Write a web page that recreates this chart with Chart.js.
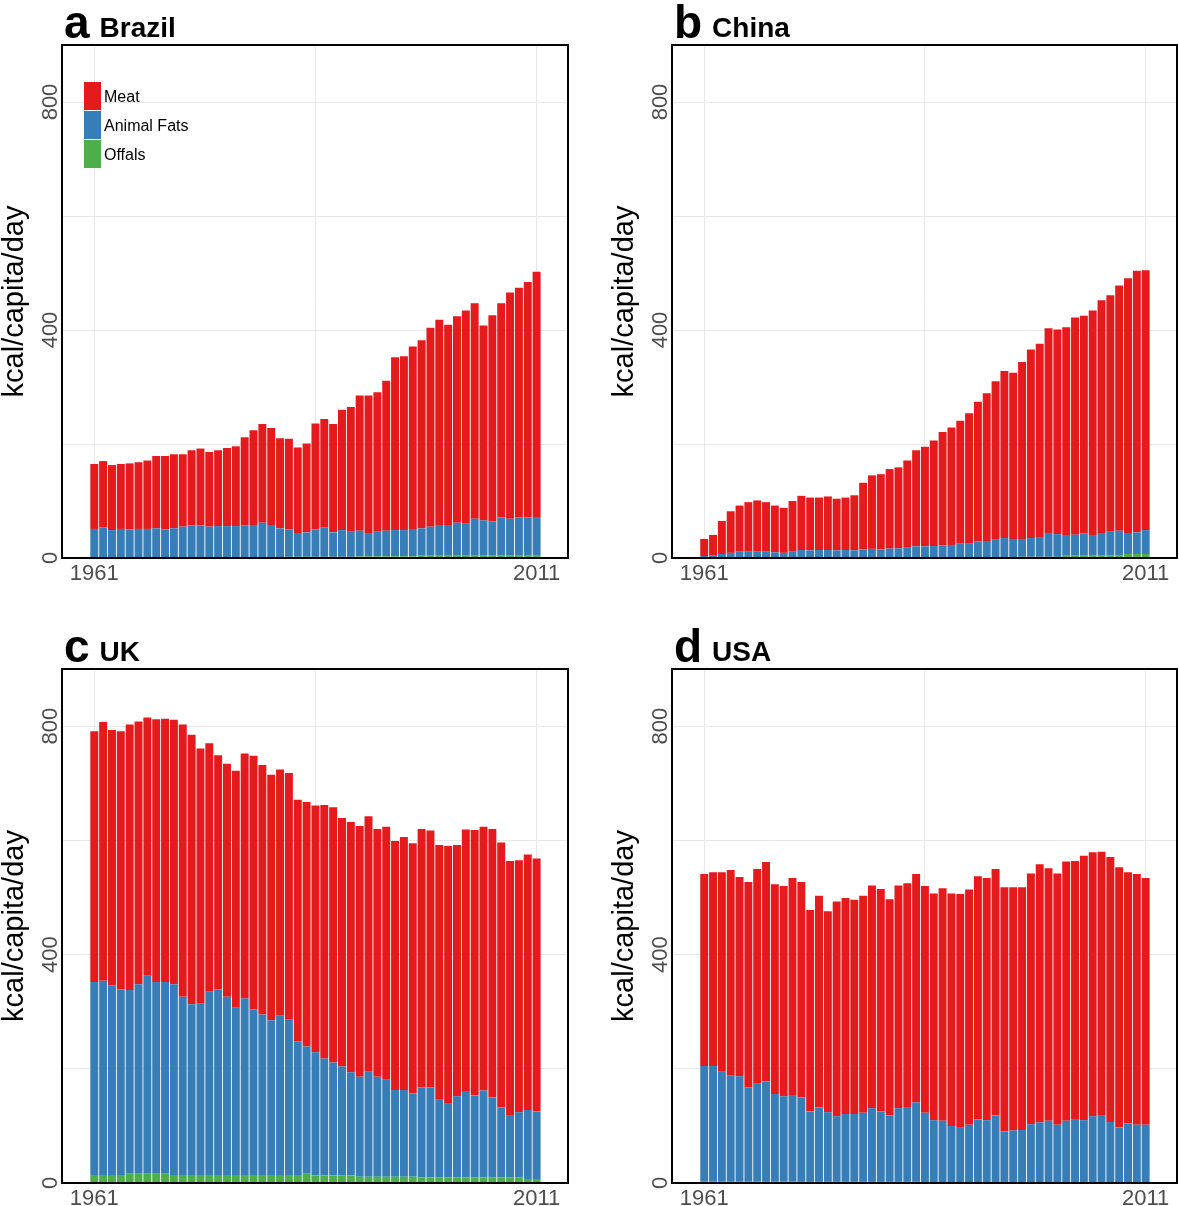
<!DOCTYPE html>
<html>
<head>
<meta charset="utf-8">
<script src="https://cdn.jsdelivr.net/npm/chart.js@4.4.1/dist/chart.umd.min.js"></script>
<style>
  html, body { margin: 0; padding: 0; background: #fff; }
  #wrap { position: relative; width: 1179px; height: 1206px; overflow: hidden; }
  canvas { position: absolute; }
</style>
</head>
<body>
<div id="wrap">
  <canvas id="brazil" width="590" height="600" style="left:0;top:0"></canvas>
  <canvas id="china" width="569" height="600" style="left:610px;top:0"></canvas>
  <canvas id="uk" width="590" height="582" style="left:0;top:624px"></canvas>
  <canvas id="usa" width="569" height="582" style="left:610px;top:624px"></canvas>
</div>
<script>
const years = [1961,1962,1963,1964,1965,1966,1967,1968,1969,1970,
  1971,1972,1973,1974,1975,1976,1977,1978,1979,1980,
  1981,1982,1983,1984,1985,1986,1987,1988,1989,1990,
  1991,1992,1993,1994,1995,1996,1997,1998,1999,2000,
  2001,2002,2003,2004,2005,2006,2007,2008,2009,2010,2011];

const xTickLabels = [1961, 2011];
const xGrid = [1961, 1986, 2011];
const yTickLabels = [0, 400, 800];
const yGrid = [0, 200, 400, 600, 800];
const yTitle = 'kcal/capita/day';

// kcal/capita/day
const brazilMeat = [114,116,114,114,116,117,120,127,129,130,
  127,132,135,131,133,137,140,155,166,173,
  170,158,159,150,156,186,190,190,211,219,
  237,241,245,263,303,305,320,330,349,360,
  351,362,374,378,342,362,376,397,403,413,430];
const brazilFats = [50,53,48,50,49,50,50,51,49,51,
  54,56,56,54,55,55,55,56,57,61,
  57,51,48,42,43,48,52,43,47,44,
  45,41,43,45,46,46,48,48,51,54,
  54,58,56,65,62,60,67,65,67,67,68];
const brazilOffals = [1,1,1,1,1,1,1,1,1,1,
  1,1,1,1,1,1,1,1,1,1,
  1,1,2,2,2,2,2,2,2,2,
  3,3,3,3,3,3,3,4,4,4,
  4,4,4,4,4,4,4,4,4,4,4];

const chinaMeat = [30,36.5,58,73,81,87,90,87,82,79,
  89,95,92.5,92,94,90.5,92,96.5,117,129,
  132,139.5,142,153,168.5,174.5,185,199,206,216,
  229,245,259,278,293,291.5,310.5,331,339,359,
  359,364.5,381,382,393.5,408,415,430,447,459,456];
const chinaFats = [3.5,4,7,9,11,11,11,11,10,9,
  11,14,13.5,14,14,13.5,14,13.5,15,16,
  15,16.5,17,18,20.5,20.5,21,22,23,25,
  24,28,29,31,34,32.5,31.5,33,35,42,
  40,36.5,37,39,36.5,39,41,43,37,38,42];
const chinaOffals = [0,0,0,0,0,0,0,0,0,0,
  0,0,0,0,0,0,0,0,0,0,
  0,0,0,0,0,0,0,0,0,0,
  1,1,1,1,1,1,2,2,2,2,
  2,4,4,4,4,5,5,5,7,7,7];

const ukMeat = [439,453,447,452,465,460,452,460,461,463,
  477,472,447,435,410,408,415,429,444,437,
  430,431,432,423,428,432,444,447,435,438,
  439,447,434,443,436,443,438,453,450,445,
  450,440,458,465,462,470,464,445,441,447,443];
const ukFats = [338,340,332,325,322,332,347,336,336,334,
  312,299,300,321,325,312,293,309,290,281,
  271,279,272,234,223,216,205,198,191,181,
  175,184,175,170,152,152,146,157.5,157.5,137.5,
  130.5,142.5,151.5,143.5,152.5,140.5,122.5,109.5,114.5,121,118];
const ukOffals = [14,14,14,14,16,16,16,16,16,14,
  14,14,14,14,14,14,14,14,14,14,
  14,14,14,14,16,13,13,13,13,13,
  11,11,11,11,11,11,11,9.5,9.5,9.5,
  9.5,9.5,9.5,9.5,9.5,9.5,9.5,9.5,9.5,7,7];

const usaMeat = [336,339,349,360,349,360,376,384,367,368,
  380,377,353,371,352,376,378,375,380,390,
  390,379,390,392,400,397,397,407,407,408,
  412,426,424,432,428,426,425,439,452,442,
  440,454,452,463,462,461,464,456,440,439,432];
const usaFats = [203,203,193,186,185,165,172,176,154,150,
  152,148,123,130,122,115,119,119,121,129,
  123,116,129,131,139,122,109,108,99,97,
  101,110,109,117,89,91,92,102,105,108,
  101,108,111,109,116,118,106,96,103,101,101];
const usaOffals = [2,2,2,2,2,2,2,2,2,2,
  2,2,2,2,2,2,2,2,2,2,
  2,2,2,2,2,1,1,1,1,1,
  1,1,1,1,1,1,1,1,1,1,
  1,1,1,1,1,1,1,1,1,1,1];

const FONT = '"Liberation Sans", Arial, Helvetica, sans-serif';

// box, axis text, panel title and the inset legend
const panelDecor = {
  id: 'panelDecor',
  afterDraw(chart, args, opts) {
    const { ctx, chartArea: a, scales } = chart;
    ctx.save();
    ctx.strokeStyle = '#000';
    ctx.lineWidth = 2;
    ctx.strokeRect(a.left, a.top, a.right - a.left, a.bottom - a.top);

    ctx.fillStyle = '#4d4d4d';
    ctx.font = '22px ' + FONT;
    ctx.textAlign = 'center';
    ctx.textBaseline = 'alphabetic';
    xTickLabels.forEach(v => {
      ctx.fillText(String(v), scales.x.getPixelForValue(v), a.bottom + 22);
    });
    yTickLabels.forEach(v => {
      ctx.save();
      ctx.translate(a.left - 5, scales.y.getPixelForValue(v));
      ctx.rotate(-Math.PI / 2);
      ctx.fillText(String(v), 0, 0);
      ctx.restore();
    });

    ctx.save();
    ctx.translate(a.left - 39, (a.top + a.bottom) / 2);
    ctx.rotate(-Math.PI / 2);
    ctx.fillStyle = '#000';
    ctx.font = '29px ' + FONT;
    ctx.fillText(yTitle, 0, 0);
    ctx.restore();

    ctx.textAlign = 'left';
    ctx.fillStyle = '#000';
    ctx.font = 'bold 46px ' + FONT;
    ctx.fillText(opts.letter, a.left + 2, a.top - 7);
    const w = ctx.measureText(opts.letter).width;
    ctx.font = 'bold 28px ' + FONT;
    ctx.fillText(opts.name, a.left + 2 + w + 10, a.top - 8);

    if (opts.legend) {
      const items = chart.data.datasets.slice().reverse();
      ctx.font = '16px ' + FONT;
      items.forEach((ds, i) => {
        const y = a.top + 37 + i * 29;
        ctx.fillStyle = ds.backgroundColor;
        ctx.fillRect(a.left + 22, y, 17, 28);
        ctx.fillStyle = '#000';
        ctx.fillText(ds.label, a.left + 42, y + 20);
      });
    }
    ctx.restore();
  }
};

function makePanel(id, letter, name, offals, fats, meat, padTop, padRight, xHeight, legend) {
  new Chart(document.getElementById(id), {
    type: 'bar',
    data: {
      labels: years,
      datasets: [
        { label: 'Offals', data: offals, backgroundColor: '#4DAF4A' },
        { label: 'Animal Fats', data: fats, backgroundColor: '#377EB8' },
        { label: 'Meat', data: meat, backgroundColor: '#E41A1C' }
      ]
    },
    options: {
      responsive: false,
      animation: false,
      devicePixelRatio: 1,
      layout: { padding: { top: padTop, right: padRight, left: 0, bottom: 0 } },
      datasets: { bar: { barPercentage: 0.9, categoryPercentage: 1, borderWidth: 0 } },
      scales: {
        x: {
          type: 'linear', stacked: true, offset: false,
          min: 1957.35, max: 2014.55,
          afterBuildTicks: s => { s.ticks = xGrid.map(v => ({ value: v })); },
          afterFit: s => { s.height = xHeight; },
          ticks: { display: false },
          border: { display: false },
          grid: { offset: false, color: '#e8e8e8', lineWidth: 1, drawTicks: false }
        },
        y: {
          stacked: true, min: 0, max: 900,
          afterBuildTicks: s => { s.ticks = yGrid.map(v => ({ value: v })); },
          afterFit: s => { s.width = 62; },
          ticks: { display: false },
          border: { display: false },
          grid: { color: '#e8e8e8', lineWidth: 1, drawTicks: false }
        }
      },
      plugins: {
        legend: { display: false },
        tooltip: { enabled: false },
        panelDecor: { letter, name, legend }
      }
    },
    plugins: [panelDecor]
  });
}

makePanel('brazil', 'a', 'Brazil', brazilOffals, brazilFats, brazilMeat, 45, 22, 42, true);
makePanel('china', 'b', 'China', chinaOffals, chinaFats, chinaMeat, 45, 2, 42, false);
makePanel('uk', 'c', 'UK', ukOffals, ukFats, ukMeat, 45, 22, 23, false);
makePanel('usa', 'd', 'USA', usaOffals, usaFats, usaMeat, 45, 2, 23, false);
</script>
</body>
</html>
